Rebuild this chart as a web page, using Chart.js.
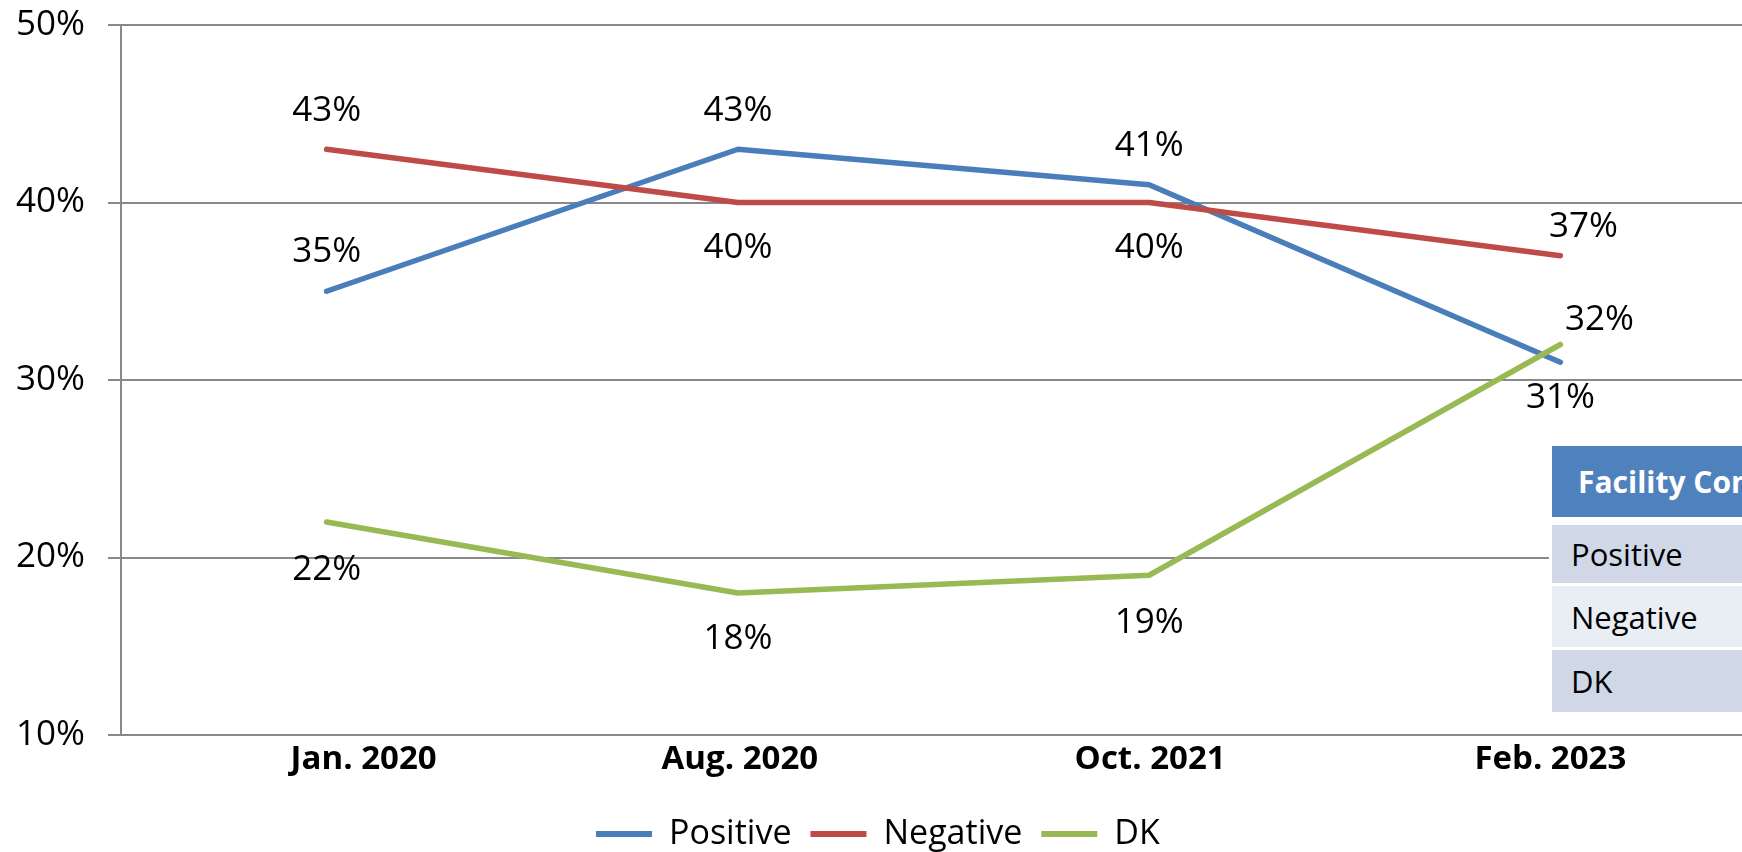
<!DOCTYPE html>
<html>
<head>
<meta charset="utf-8">
<title>Facility Conditions</title>
<script src="https://cdn.jsdelivr.net/npm/chart.js@4.4.1/dist/chart.umd.min.js"></script>
<style>
  html, body { margin: 0; padding: 0; background: #fff; overflow: hidden; width: 1742px; height: 852px; }
  #wrap { position: relative; width: 1790px; height: 852px; }
  #chart { position: absolute; left: 0; top: 0; }
  .cell { position: absolute; left: 1552px; width: 400px; font-family: 'Open Sans'; color: #000; display: flex; align-items: center; white-space: nowrap; }
  #tableBack { position: absolute; left: 1549px; top: 443px; width: 420px; height: 272px; background: #fff; }
</style>
</head>
<body>
<div id="wrap">
  <canvas id="chart" width="1790" height="852"></canvas>
  <div id="tableBack"></div>
  <div id="table"></div>
</div>
<script>
const categories = ['Jan. 2020', 'Aug. 2020', 'Oct. 2021', 'Feb. 2023'];
const seriesNames = ['Positive', 'Negative', 'DK'];
const positive = [35, 43, 41, 31];
const negative = [43, 40, 40, 37];
const dk = [22, 18, 19, 32];
const yTicks = [10, 20, 30, 40, 50];
const tableTitle = 'Facility Conditions';

// where each value label sits relative to its point (centre of the text)
const posLabelOffsets = [[0, -42], [0, -41], [0, -41], [0, 33]];
const negLabelOffsets = [[0, -41], [0, 43], [0, 43], [23, -31]];
const dkLabelOffsets = [[0, 45], [0, 43], [0, 45], [39, -27]];
// the category labels are not quite centred under the points in the original
const catLabelShift = [37, 2, 1, -10];

const gridGray = '#898989';

const valueLabels = {
    id: 'valueLabels',
    afterDatasetsDraw(chart) {
        const ctx = chart.ctx;
        ctx.save();
        ctx.font = '35px "Open Sans"';
        ctx.fillStyle = '#000';
        ctx.textAlign = 'center';
        ctx.textBaseline = 'alphabetic';
        chart.data.datasets.forEach((ds, i) => {
            const meta = chart.getDatasetMeta(i);
            meta.data.forEach((pt, j) => {
                const off = ds.labelOffsets[j];
                ctx.fillText(ds.data[j] + '%', pt.x + off[0], pt.y + off[1] + 12.5);
            });
        });

        // category labels under the x axis
        const xs = chart.scales.x;
        ctx.font = 'bold 33px "Open Sans"';
        categories.forEach((c, i) => {
            ctx.fillText(c, xs.getPixelForValue(i) + catLabelShift[i], xs.top + 34);
        });
        ctx.restore();
    }
};

// move the legend to where the original had it
const legendPlace = {
    id: 'legendPlace',
    afterLayout(chart) {
        const lg = chart.legend;
        if (!lg || !lg.lineWidths) return;
        const pad = lg.options.labels.padding;
        const start = (lg.left + pad + lg.right - lg.lineWidths[0]) / 2;
        const dx = 596 - start;
        lg.left += dx;
        lg.right += dx;
        lg.top += 9;
        lg.bottom += 9;
    }
};

const lineSet = (label, data, color, offsets, order) => ({
    label: label,
    data: data,
    borderColor: color,
    backgroundColor: color,
    borderWidth: 5.5,
    borderCapStyle: 'round',
    borderJoinStyle: 'round',
    pointRadius: 0,
    pointHoverRadius: 0,
    tension: 0,
    order: order,
    labelOffsets: offsets
});

new Chart(document.getElementById('chart'), {
    type: 'line',
    data: {
        labels: categories,
        datasets: [
            lineSet(seriesNames[0], positive, '#4A7EBB', posLabelOffsets, 3),
            lineSet(seriesNames[1], negative, '#BE4B48', negLabelOffsets, 2),
            lineSet(seriesNames[2], dk, '#98B954', dkLabelOffsets, 1)
        ]
    },
    options: {
        responsive: false,
        animation: false,
        devicePixelRatio: 1,
        layout: { padding: { top: 25, right: 24, left: 0, bottom: 0 } },
        plugins: {
            tooltip: { enabled: false },
            legend: {
                position: 'bottom',
                labels: {
                    usePointStyle: true,
                    pointStyle: 'line',
                    pointStyleWidth: 56,
                    padding: 19,
                    color: '#000',
                    font: { family: 'Open Sans', size: 34 },
                    generateLabels(chart) {
                        const items = Chart.defaults.plugins.legend.labels.generateLabels(chart);
                        items.sort((a, b) => a.datasetIndex - b.datasetIndex);
                        items.forEach(it => { it.lineWidth = 6; });
                        return items;
                    }
                }
            }
        },
        scales: {
            x: {
                offset: true,
                grid: { display: false },
                border: { display: true, color: gridGray, width: 2 },
                ticks: { display: false },
                afterFit(scale) { scale.height = 54; }
            },
            y: {
                min: yTicks[0],
                max: yTicks[yTicks.length - 1],
                afterBuildTicks(scale) { scale.ticks = yTicks.map(v => ({ value: v })); },
                grid: { color: gridGray, lineWidth: 2, tickLength: 13, drawTicks: true },
                border: { display: true, color: gridGray, width: 2 },
                ticks: {
                    color: '#000',
                    padding: 23,
                    font: { family: 'Open Sans', size: 35 },
                    callback: v => v + '%'
                },
                afterFit(scale) {
                    scale.width = 121;
                    scale.paddingTop = 0;
                    scale.paddingBottom = 0;
                }
            }
        }
    },
    plugins: [valueLabels, legendPlace]
});

// the small table on the right
const table = document.getElementById('table');
const rows = [
    { text: tableTitle, top: 446, h: 71, bg: '#4F81BD', color: '#fff', weight: 'bold', size: 30, pad: 26 },
    { text: seriesNames[0], top: 525, h: 58, bg: '#D0D8E8', color: '#000', weight: 'normal', size: 31, pad: 19 },
    { text: seriesNames[1], top: 586, h: 61, bg: '#E9EDF4', color: '#000', weight: 'normal', size: 31, pad: 19 },
    { text: seriesNames[2], top: 650, h: 62, bg: '#D0D8E8', color: '#000', weight: 'normal', size: 31, pad: 19 }
];
rows.forEach(r => {
    const d = document.createElement('div');
    d.className = 'cell';
    d.textContent = r.text;
    d.style.top = r.top + 'px';
    d.style.height = r.h + 'px';
    d.style.background = r.bg;
    d.style.color = r.color;
    d.style.fontWeight = r.weight;
    d.style.fontSize = r.size + 'px';
    d.style.paddingLeft = r.pad + 'px';
    table.appendChild(d);
});
</script>
</body>
</html>
